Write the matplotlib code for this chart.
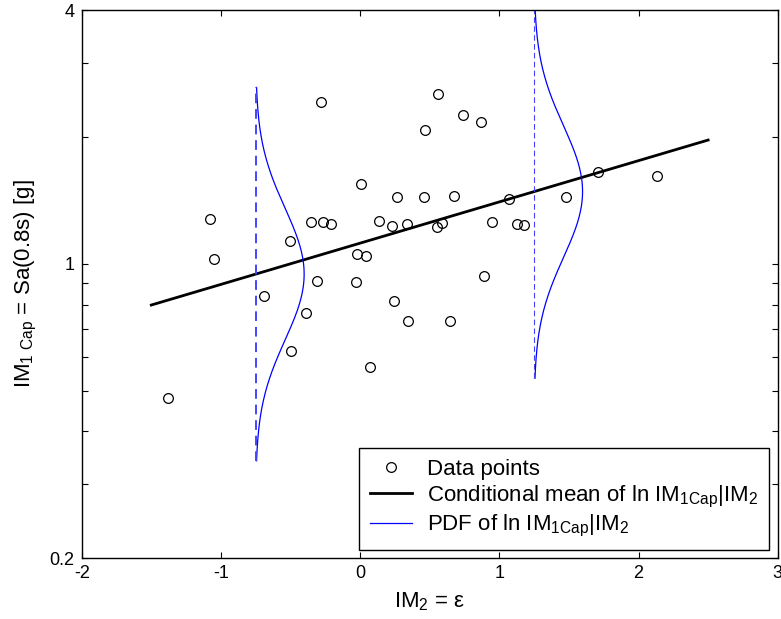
import numpy as np
import matplotlib
matplotlib.use("Agg")
import matplotlib.pyplot as plt
from matplotlib.ticker import FixedLocator, FixedFormatter, NullFormatter

# ---------------- data ----------------
eps = [-1.378, -1.076, -1.047, -0.688, -0.504, -0.494, -0.389, -0.312, -0.353, -0.279,
       -0.264, -0.209, -0.027, -0.020, 0.006, 0.042, 0.073, 0.136, 0.227, 0.244,
       0.267, 0.337, 0.342, 0.461, 0.468, 0.560, 0.550, 0.591, 0.646, 0.677,
       0.739, 0.871, 0.889, 0.948, 1.067, 1.124, 1.180, 1.477, 1.711, 2.131]
sa = [0.481, 1.277, 1.029, 0.838, 1.132, 0.622, 0.763, 0.910, 1.253, 2.416,
      1.254, 1.243, 0.905, 1.055, 1.546, 1.043, 0.568, 1.261, 1.229, 0.817,
      1.442, 1.244, 0.733, 1.442, 2.076, 2.528, 1.222, 1.251, 0.733, 1.450,
      2.254, 2.169, 0.935, 1.254, 1.424, 1.244, 1.238, 1.442, 1.651, 1.618]

mean_intercept = 0.1124   # ln Sa at eps = 0
mean_slope = 0.2254       # d ln Sa / d eps
line_eps_range = [-1.5, 2.5]
pdf_eps = [-0.75, 1.25]
pdf_sigma = 0.36
pdf_halfwidth = 1.02      # in ln units
pdf_peak = 0.348          # horizontal size of pdf peak in eps units

x_ticks = [-2, -1, 0, 1, 2, 3]
y_major = [0.2, 1, 4]
y_major_labels = ["0.2", "1", "4"]
y_minor = [0.3, 0.4, 0.5, 0.6, 0.7, 0.8, 0.9, 2, 3]

# ---------------- figure ----------------
plt.rcParams['font.family'] = ['Liberation Sans', 'DejaVu Sans']
plt.rcParams['mathtext.default'] = 'regular'
plt.rcParams['axes.unicode_minus'] = False

fig = plt.figure(figsize=(7.81, 6.19), dpi=100)
ax = fig.add_axes([0.1046, 0.0981, 0.8912, 0.8857])

ax.plot(eps, sa, linestyle='none', marker='o', markersize=7, markerfacecolor='none',
        markeredgecolor='black', markeredgewidth=0.9, label='Data points')

xl = np.array(line_eps_range)
ax.plot(xl, np.exp(mean_intercept + mean_slope * xl), color='black', lw=2.0,
        label='Conditional mean of ln IM$_{1Cap}$|IM$_2$')

dash_lw = [1.4, 0.8]
for i, e0 in enumerate(pdf_eps):
    mu = mean_intercept + mean_slope * e0
    t = np.linspace(mu - pdf_halfwidth, mu + pdf_halfwidth, 200)
    dens = np.exp(-0.5 * ((t - mu) / pdf_sigma) ** 2)
    ax.plot(e0 + pdf_peak * dens, np.exp(t), color='#0000ff', lw=0.9,
            label='PDF of ln IM$_{1Cap}$|IM$_2$' if i == 0 else None)
    ax.plot([e0, e0], np.exp([t[0], t[-1]]), color='#4444ff', lw=dash_lw[i],
            dashes=(5, 3))

ax.set_yscale('log')
ax.set_xlim(-2, 3)
ax.set_ylim(0.2, 4)
ax.xaxis.set_major_locator(FixedLocator(x_ticks))
ax.yaxis.set_major_locator(FixedLocator(y_major))
ax.yaxis.set_major_formatter(FixedFormatter(y_major_labels))
ax.yaxis.set_minor_locator(FixedLocator(y_minor))
ax.yaxis.set_minor_formatter(NullFormatter())

ax.tick_params(which='both', direction='in', top=True, right=True, length=4.5,
               width=0.8, labelsize=13, pad=5)
for s in ax.spines.values():
    s.set_linewidth(1.0)

ax.set_xlabel('IM$_2$ = ε', fontsize=16, labelpad=6)
ax.set_ylabel('IM$_{1\\ Cap}$ = Sa(0.8s) [g]', fontsize=16, labelpad=8)

leg = ax.legend(loc='lower right', bbox_to_anchor=(0.9875, 0.015), fontsize=16,
                fancybox=False, framealpha=1, edgecolor='black',
                handlelength=1.9, handletextpad=0.68, labelspacing=0.15,
                borderpad=0.5, borderaxespad=0.0)
leg.get_frame().set_linewidth(1.0)

fig.savefig('out.png', dpi=100)
